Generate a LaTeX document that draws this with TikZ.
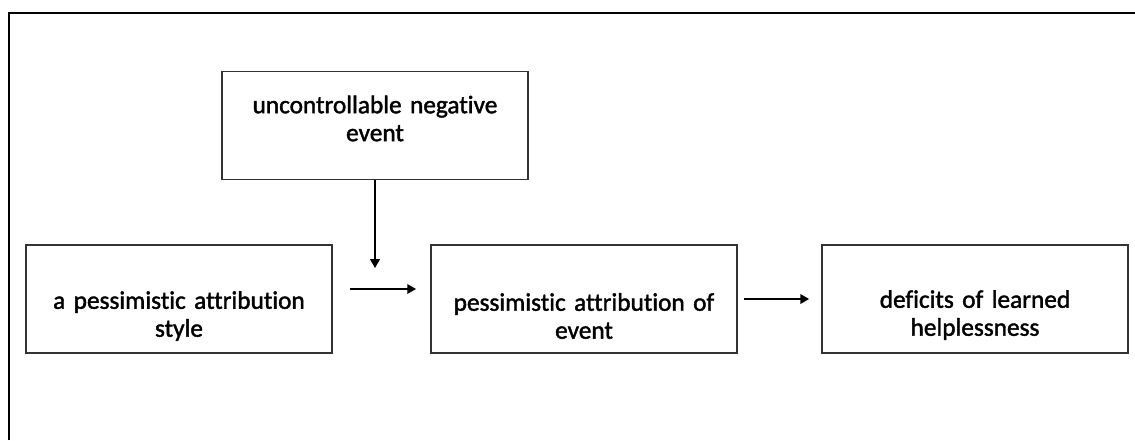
\documentclass[tikz,border=0pt]{standalone}
\usepackage{fontspec}
\setmainfont{Carlito}[Ligatures=NoCommon,FakeBold=1.6,UprightFeatures={FakeBold=1.6}]
\usetikzlibrary{arrows.meta}

\tikzset{box/.style={draw=black!80,line width=1.1pt,minimum width=6.12cm,minimum height=2.16cm,inner sep=0pt}}
\tikzset{txt/.style={text width=5.8cm,align=center,inner sep=0pt,font=\fontsize{14.4pt}{15.9pt}\selectfont}}
\tikzset{arr/.style={line width=0.8pt,-{Triangle[width=5.5pt,length=5pt]}}}

\begin{document}
\begin{tikzpicture}[x=0.02cm,y=-0.02cm]
  \useasboundingbox (0,0) rectangle (1135,440);
  % frame
  \draw[line width=1.6pt] (9,440) -- (9,13) -- (1135,13);
  % boxes
  \node[box] (unc) at (375,125.5) {};
  \node[box] (style) at (179,299) {};
  \node[box] (attr) at (584,299) {};
  \node[box] (deficit) at (975,299) {};
  % texts
  \node[txt] (unctxt) at ([yshift=0.14cm]unc.center) {uncontrollable negative\\event};
  \node[txt] (styletxt) at ([yshift=-0.34cm]style.center) {a pessimistic attribution\\style};
  \node[txt] (attrtxt) at ([yshift=-0.34cm]attr.center) {pessimistic attribution of\\event};
  \node[txt] (deficittxt) at ([yshift=-0.32cm]deficit.center) {deficits of learned\\helplessness};
  % arrows
  \coordinate (meet) at (unc.center |- 0,268);
  \draw[arr] (unc.south) -- (meet);
  \draw[arr] ([shift={(17,-10)}]style.east) -- ([shift={(-14,-10)}]attr.west);
  \draw[arr,shorten <=3.4pt,shorten >=6.8pt] (attr.east) -- (deficit.west);
\end{tikzpicture}
\end{document}
